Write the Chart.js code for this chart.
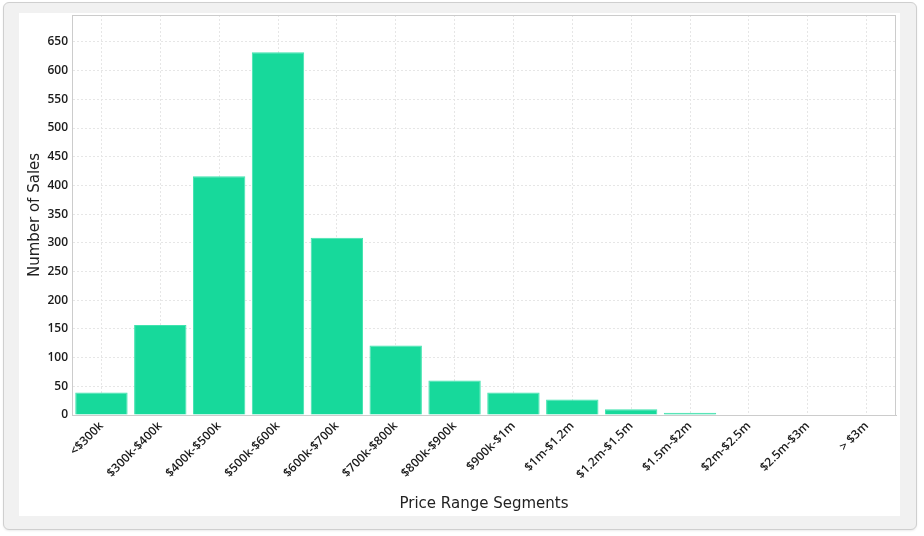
<!DOCTYPE html>
<html>
<head>
<meta charset="utf-8">
<script src="https://cdn.jsdelivr.net/npm/chart.js@4.4.1/dist/chart.umd.min.js"></script>
<style>
html,body{margin:0;padding:0;background:#fff;}
#frame{position:absolute;left:3px;top:2px;width:912px;height:526px;border:1px solid #cfcfcf;border-radius:6px;background:#f1f1f1;box-shadow:0 1px 2px rgba(0,0,0,0.08);}
#inner{position:absolute;left:19px;top:13px;width:881px;height:503px;background:#fff;}
</style>
</head>
<body>
<div id="frame"></div>
<div id="inner"><canvas id="c" width="881" height="503"></canvas></div>
<script>
const categories = ["<$300k","$300k-$400k","$400k-$500k","$500k-$600k","$600k-$700k","$700k-$800k","$800k-$900k","$900k-$1m","$1m-$1.2m","$1.2m-$1.5m","$1.5m-$2m","$2m-$2.5m","$2.5m-$3m","> $3m"];
const sales = [39, 157, 416, 632, 309, 121, 60, 39, 27, 10, 4, 0, 0, 1];
const yTicks = [0,50,100,150,200,250,300,350,400,450,500,550,600,650];
const yMax = 697;

const frameBorder = {
  id:'frameBorder',
  afterDatasetsDraw(chart){
    const {ctx, chartArea:a} = chart;
    ctx.save();
    ctx.strokeStyle = '#cccccc';
    ctx.lineWidth = 1;
    ctx.strokeRect(Math.round(a.left)+0.5, Math.round(a.top)+0.5, Math.round(a.right-a.left)-1, Math.round(a.bottom-a.top));
    ctx.restore();
  }
};

new Chart(document.getElementById('c'), {
  type:'bar',
  data:{
    labels:categories,
    datasets:[{
      data:sales,
      backgroundColor:'#17d99b',
      borderColor:'#3fe3ae',
      borderWidth:1,
      barPercentage:0.89,
      categoryPercentage:1.0
    }]
  },
  plugins:[frameBorder],
  options:{
    responsive:false,
    animation:false,
    devicePixelRatio:1,
    layout:{padding:{top:2,right:4,left:0,bottom:0}},
    plugins:{legend:{display:false},tooltip:{enabled:false}},
    scales:{
      x:{
        offset:true,
        grid:{offset:false,color:'#e6e6e6',drawTicks:false},
        border:{dash:[2,2],color:'#cccccc'},
        ticks:{color:'#1a1a1a',font:{family:'Open Sans',size:12,weight:'600'},maxRotation:45,minRotation:45,padding:4,autoSkip:false},
        title:{display:true,text:'Price Range Segments',color:'#222',font:{family:'DejaVu Sans',size:15},padding:{top:4,bottom:3}},
        afterFit(s){s.height=101;s.paddingLeft=0;s.paddingRight=0;}
      },
      y:{
        min:0,max:yMax,
        afterBuildTicks(s){s.ticks=yTicks.map(v=>({value:v}));},
        grid:{color:'#e6e6e6',drawTicks:false},
        border:{dash:[2,2],color:'#cccccc'},
        ticks:{color:'#1a1a1a',font:{family:'Open Sans',size:12,weight:'600'},padding:4},
        title:{display:true,text:'Number of Sales',color:'#222',font:{family:'DejaVu Sans',size:15},padding:{top:7,bottom:4}},
        afterFit(s){s.width=53;s.paddingTop=0;s.paddingBottom=0;}
      }
    }
  }
});
</script>
</body>
</html>
